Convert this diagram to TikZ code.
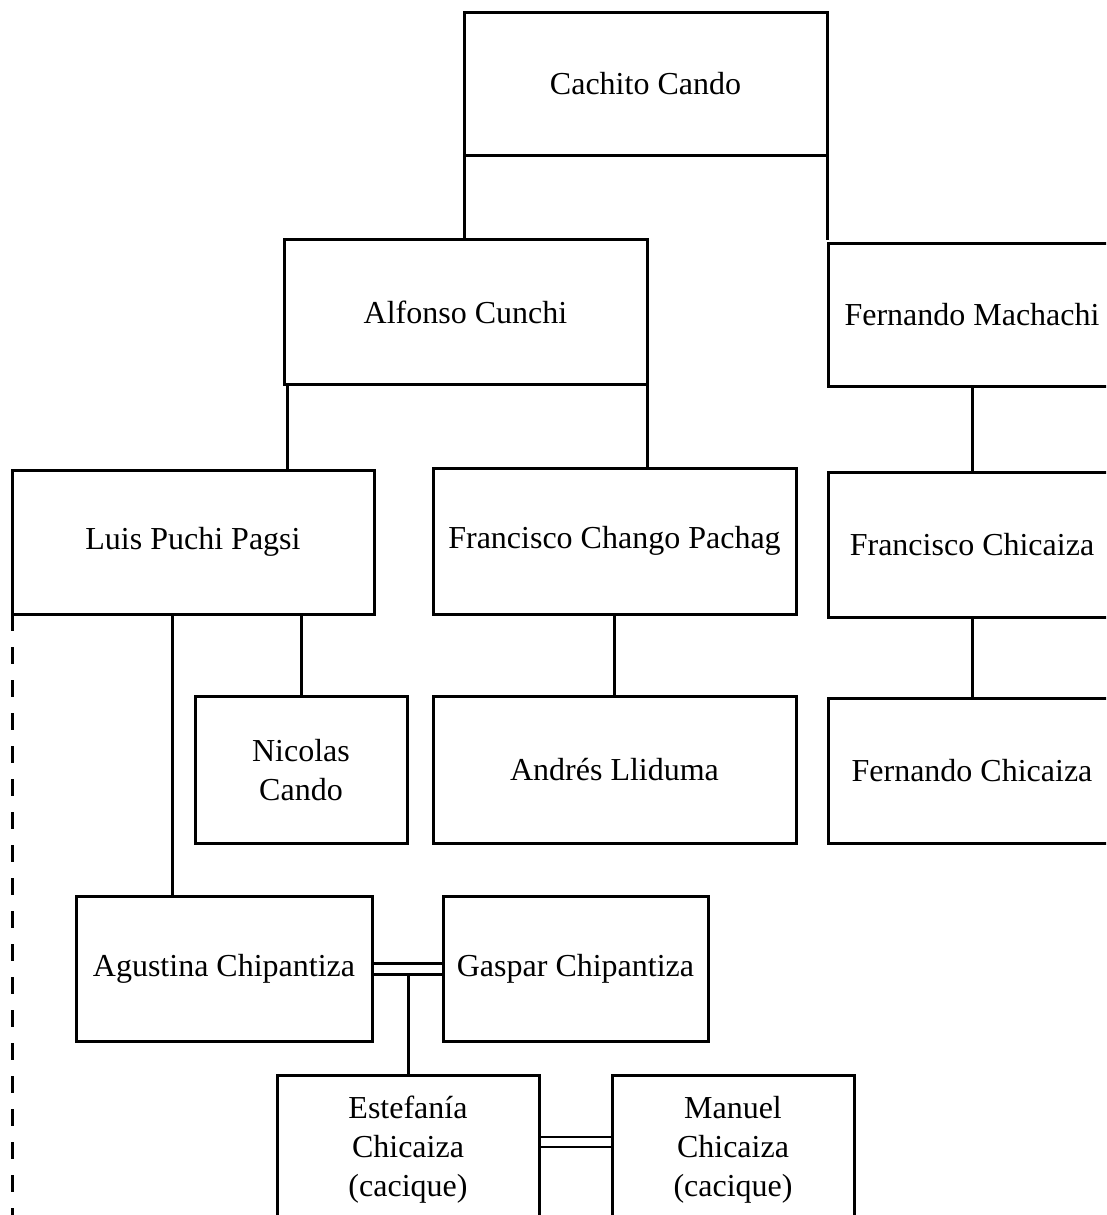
\documentclass[tikz,border=0pt]{standalone}
\usepackage{fontspec}
\setmainfont{Liberation Serif}
\begin{document}
\begin{tikzpicture}[x=1pt,y=-1pt,
  box/.style={draw,line width=3pt,rectangle,inner sep=0pt,outer sep=0pt,align=center,
    font=\fontsize{32}{39}\selectfont},
  link/.style={line width=3pt},
  dbl/.style={line width=2.6pt}]
\path[use as bounding box] (0,0) rectangle (1106,1215);
\clip (0,0) rectangle (1106,1215);
\fill[white] (0,0) rectangle (1106,1215);
% boxes
\node[box,minimum width=363pt,minimum height=142pt] (cachito) at (645.5,84) {Cachito Cando};
\node[box,minimum width=363pt,minimum height=145pt] (alfonso) at (465.5,312) {Alfonso Cunchi};
\node[box,minimum width=288pt,minimum height=143pt] (fmach) at (972,315) {Fernando Machachi};
\node[box,minimum width=362pt,minimum height=144pt] (luis) at (193,542) {Luis Puchi Pagsi};
\node[box,minimum width=363pt,minimum height=146pt] (fchango) at (614.5,541) {Francisco Chango Pachag};
\node[box,minimum width=288pt,minimum height=145pt] (fchic) at (972,545) {Francisco Chicaiza};
\node[box,minimum width=212pt,minimum height=147pt] (nicolas) at (301,770) {Nicolas\\Cando};
\node[box,minimum width=363pt,minimum height=147pt] (andres) at (614.5,770) {Andrés Lliduma};
\node[box,minimum width=288pt,minimum height=145pt] (fernc) at (972,771) {Fernando Chicaiza};
\node[box,minimum width=296pt,minimum height=145pt] (agustina) at (224,969) {Agustina Chipantiza};
\node[box,minimum width=265pt,minimum height=145pt] (gaspar) at (575.5,969) {Gaspar Chipantiza};
\node[box,minimum width=262pt,minimum height=150pt] (estefania) at (408,1150) {Estefanía\\Chicaiza\\(cacique)};
\node[box,minimum width=242pt,minimum height=150pt] (manuel) at (733,1150) {Manuel\\Chicaiza\\(cacique)};
% connectors
\draw[link] (cachito.south west) -- (cachito.south west |- alfonso.north);
\draw[link] (cachito.south east) -- ([yshift=4pt]cachito.south east |- fmach.north);
\draw[link] ([xshift=3pt]alfonso.south west) -- ([xshift=3pt]alfonso.south west |- luis.north);
\draw[link] (alfonso.south east) -- (alfonso.south east |- fchango.north);
\draw[link] (fmach.south) -- (fchic.north);
\draw[link] (nicolas.north |- luis.south) -- (nicolas.north);
\draw[link] ([xshift=160pt]luis.south west) -- ([xshift=160pt]luis.south west |- agustina.north);
\draw[link] (fchango.south) -- (andres.north);
\draw[link] (fchic.south) -- (fernc.north);
\draw[dbl] ([yshift=5.5pt]agustina.east) -- ([yshift=5.5pt]gaspar.west);
\draw[dbl] ([yshift=-5.5pt]agustina.east) -- ([yshift=-5.5pt]gaspar.west);
\draw[link] (estefania.north |- gaspar.west) ++(0,5.5) -- (estefania.north);
\draw[dbl] ([yshift=-62pt]estefania.north east) -- ([yshift=-62pt]manuel.north west);
\draw[dbl] ([yshift=-72pt]estefania.north east) -- ([yshift=-72pt]manuel.north west);
\draw[link,dash pattern=on 17pt off 16pt] (luis.south west) -- (luis.south west |- 0,1230);
\end{tikzpicture}
\end{document}
